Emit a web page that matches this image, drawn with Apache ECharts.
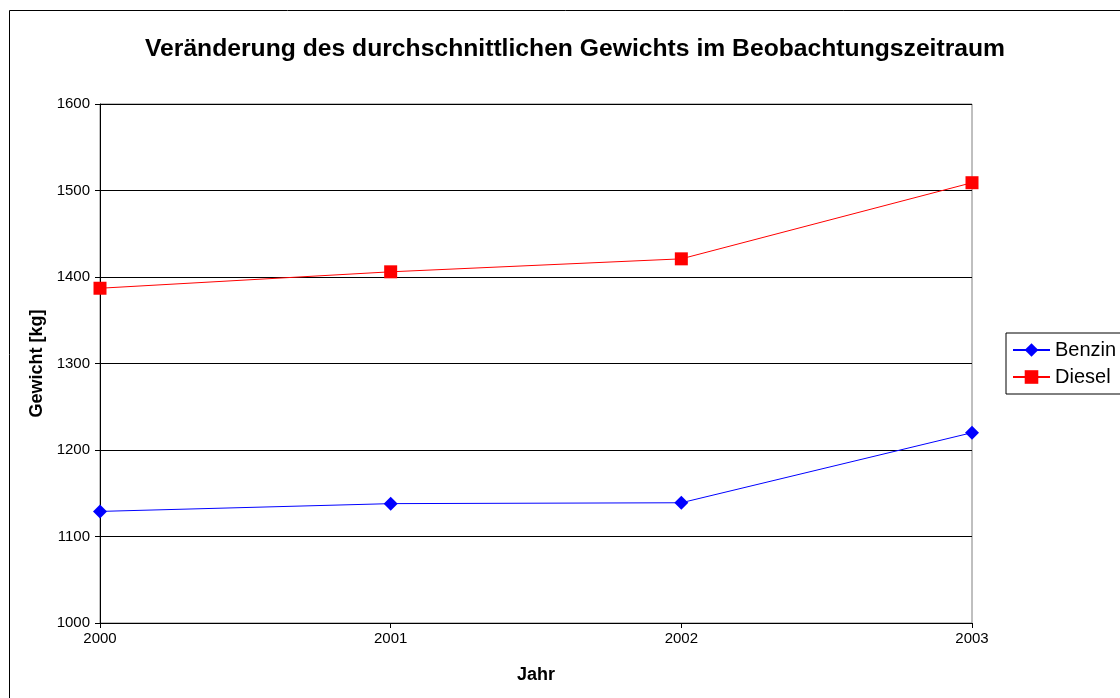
<!DOCTYPE html>
<html>
<head>
<meta charset="utf-8">
<script src="https://cdn.jsdelivr.net/npm/echarts@6/dist/echarts.min.js"></script>
<style>
  html, body { margin: 0; padding: 0; background: #fff; }
  #chart { width: 1120px; height: 698px; }
</style>
</head>
<body>
<div id="chart"></div>
<script>
const years = ['2000', '2001', '2002', '2003']
const benzin = [1129, 1138, 1139, 1220]
const diesel = [1387, 1406, 1421, 1509]

const chart = echarts.init(document.getElementById('chart'))

chart.setOption({
  animation: false,
  textStyle: { fontFamily: 'Liberation Sans, Arial, sans-serif' },
  title: {
    text: 'Veränderung des durchschnittlichen Gewichts im Beobachtungszeitraum',
    left: 570,
    textAlign: 'center',
    top: 32,
    textStyle: { fontSize: 24.7, fontWeight: 'bold', color: '#000' },
  },
  graphic: [
    {
      type: 'rect',
      shape: { x: 9.5, y: 10.5, width: 1130, height: 700 },
      style: { fill: 'none', stroke: '#000', lineWidth: 1 },
      silent: true,
    },
  ],
  legend: {
    orient: 'vertical',
    left: 1006,
    top: 333,
    padding: [7, 40, 7, 6],
    itemGap: 7,
    itemWidth: 37,
    itemHeight: 17,
    borderColor: '#000',
    borderWidth: 1,
    textStyle: { fontSize: 20, color: '#000' },
    data: ['Benzin', 'Diesel'],
  },
  grid: {
    left: 100,
    right: 148,
    top: 104,
    bottom: 75,
    show: true,
    borderColor: '#808080',
    borderWidth: 1,
  },
  xAxis: {
    type: 'category',
    data: years,
    boundaryGap: false,
    name: 'Jahr',
    nameLocation: 'middle',
    nameGap: 43,
    nameTextStyle: { fontSize: 18, fontWeight: 'bold', color: '#000' },
    axisLine: { lineStyle: { color: '#000' } },
    axisTick: { show: true, length: 5, lineStyle: { color: '#000' } },
    axisLabel: { fontSize: 15, color: '#000', margin: 8 },
  },
  yAxis: {
    type: 'value',
    min: 1000,
    max: 1600,
    interval: 100,
    name: 'Gewicht [kg]',
    nameLocation: 'middle',
    nameRotate: 90,
    nameGap: 53,
    nameTextStyle: { fontSize: 18, fontWeight: 'bold', color: '#000' },
    axisLine: { show: true, lineStyle: { color: '#000' } },
    axisTick: { show: true, length: 5, lineStyle: { color: '#000' } },
    axisLabel: { fontSize: 15, color: '#000', margin: 10, formatter: (v) => String(v) },
    splitLine: { lineStyle: { color: '#000', width: 1 } },
  },
  series: [
    {
      name: 'Benzin',
      type: 'line',
      data: benzin,
      symbol: 'diamond',
      symbolSize: 14,
      lineStyle: { color: '#0000ff', width: 1 },
      itemStyle: { color: '#0000ff' },
    },
    {
      name: 'Diesel',
      type: 'line',
      data: diesel,
      symbol: 'rect',
      symbolSize: 13,
      lineStyle: { color: '#ff0000', width: 1 },
      itemStyle: { color: '#ff0000' },
    },
  ],
})
</script>
</body>
</html>
